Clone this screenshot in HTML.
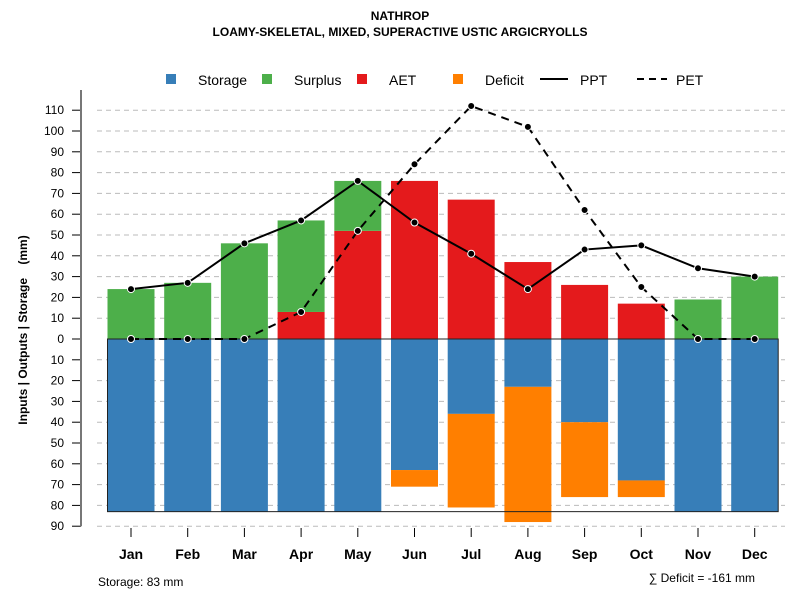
<!DOCTYPE html>
<html><head><meta charset="utf-8"><style>
body{margin:0;background:#fff;font-family:"Liberation Sans",Arial,sans-serif}
svg text{font-family:"Liberation Sans",Arial,sans-serif}
</style></head><body>
<svg id="c" width="800" height="600" xmlns="http://www.w3.org/2000/svg">
<text x="400" y="20" text-anchor="middle" font-size="12" font-weight="bold">NATHROP</text>
<text x="400" y="36" text-anchor="middle" font-size="12" font-weight="bold">LOAMY-SKELETAL, MIXED, SUPERACTIVE USTIC ARGICRYOLLS</text>
<g>
<rect x="166" y="74" width="10" height="10" fill="#377eb8"/>
<text x="198" y="85" font-size="14">Storage</text>
<rect x="262" y="74" width="10" height="10" fill="#4daf4a"/>
<text x="294" y="85" font-size="14">Surplus</text>
<rect x="357" y="74" width="10" height="10" fill="#e41a1c"/>
<text x="389" y="85" font-size="14">AET</text>
<rect x="453" y="74" width="10" height="10" fill="#ff7f00"/>
<text x="485" y="85" font-size="14">Deficit</text>
<line x1="540" y1="79" x2="568" y2="79" stroke="#000" stroke-width="2"/>
<text x="580" y="85" font-size="14">PPT</text>
<line x1="637" y1="79" x2="667" y2="79" stroke="#000" stroke-width="2" stroke-dasharray="7,5"/>
<text x="676" y="85" font-size="14">PET</text>
</g>
<text transform="translate(27,330) rotate(-90)" text-anchor="middle" font-size="12" font-weight="bold" xml:space="preserve" style="white-space:pre">Inputs | Outputs | Storage    (mm)</text>
<text x="98" y="586" font-size="12">Storage: 83 mm</text>
<text x="755" y="582" text-anchor="end" font-size="12">∑ Deficit = -161 mm</text>
<g id="grid"></g><g id="bars"></g><g id="lines"></g><g id="axes"></g>
</svg>
<script>
const months=["Jan","Feb","Mar","Apr","May","Jun","Jul","Aug","Sep","Oct","Nov","Dec"];
const storage=[83,83,83,83,83,63,36,23,40,68,83,83];
const deficit=[0,0,0,0,0,8,45,65,36,8,0,0];
const aet=[0,0,0,13,52,76,67,37,26,17,0,0];
const surplus=[24,27,46,44,24,0,0,0,0,0,19,30];
const ppt=[24,27,46,57,76,56,41,24,43,45,34,30];
const pet=[0,0,0,13,52,84,112,102,62,25,0,0];
const yTicks=[-90,-80,-70,-60,-50,-40,-30,-20,-10,0,10,20,30,40,50,60,70,80,90,100,110];
const awc=83;
const NS="http://www.w3.org/2000/svg";
const y=v=>339-v*2.08;
const x=i=>131+i*56.7;
const bw=47;
function mk(p,tag,at){const e=document.createElementNS(NS,tag);for(const k in at)e.setAttribute(k,at[k]);document.getElementById(p).appendChild(e);return e;}
yTicks.forEach(t=>{
 if(t!==0){const g=mk('grid','line',{x1:97,x2:785,y1:y(t),y2:y(t),stroke:'#bbb','stroke-dasharray':'5,4'});
 
 }
 const tk=mk('axes','line',{x1:72,x2:81,y1:y(t),y2:y(t),stroke:'#000'});
 
 
 const tl=mk('axes','text',{x:64,y:y(t)+4,'text-anchor':'end','font-size':12});
 tl.textContent=Math.abs(t);
 
 
});
const ax=mk('axes','line',{x1:81,x2:81,y1:90,y2:y(-90),stroke:'#777','stroke-width':2});


months.forEach((m,i)=>{
 const cx=x(i);
 let r=mk('bars','rect',{x:cx-bw/2,y:y(0),width:bw,height:y(-storage[i])-y(0),fill:'#377eb8'});
 
 
 if(deficit[i]>0){r=mk('bars','rect',{x:cx-bw/2,y:y(-storage[i]),width:bw,height:deficit[i]*2.08,fill:'#ff7f00'});
 
 }
 if(aet[i]>0){r=mk('bars','rect',{x:cx-bw/2,y:y(aet[i]),width:bw,height:aet[i]*2.08,fill:'#e41a1c'});
 
 }
 if(surplus[i]>0){r=mk('bars','rect',{x:cx-bw/2,y:y(aet[i]+surplus[i]),width:bw,height:surplus[i]*2.08,fill:'#4daf4a'});
 
 }
 const t=mk('axes','line',{x1:cx,x2:cx,y1:528,y2:537,stroke:'#000'});
 
 
 const l=mk('axes','text',{x:cx,y:559,'text-anchor':'middle','font-size':14,'font-weight':'bold'});
 l.textContent=m;
 
 
});
const box=mk('bars','rect',{x:x(0)-bw/2,y:y(0),width:x(11)-x(0)+bw,height:awc*2.08,fill:'none',stroke:'#222','stroke-width':1});


function series(arr,name,dash){
 const p=mk('lines','polyline',{points:arr.map((v,i)=>x(i)+','+y(v)).join(' '),fill:'none',stroke:'#000','stroke-width':2,'stroke-dasharray':dash});
 
 
 arr.forEach((v,i)=>{const c=mk('lines','circle',{cx:x(i),cy:y(v),r:3.5,fill:'#000',stroke:'#fff','stroke-width':1});
 
 });
}
series(pet,'pet','8,6');
series(ppt,'ppt','none');
</script>
</body></html>
